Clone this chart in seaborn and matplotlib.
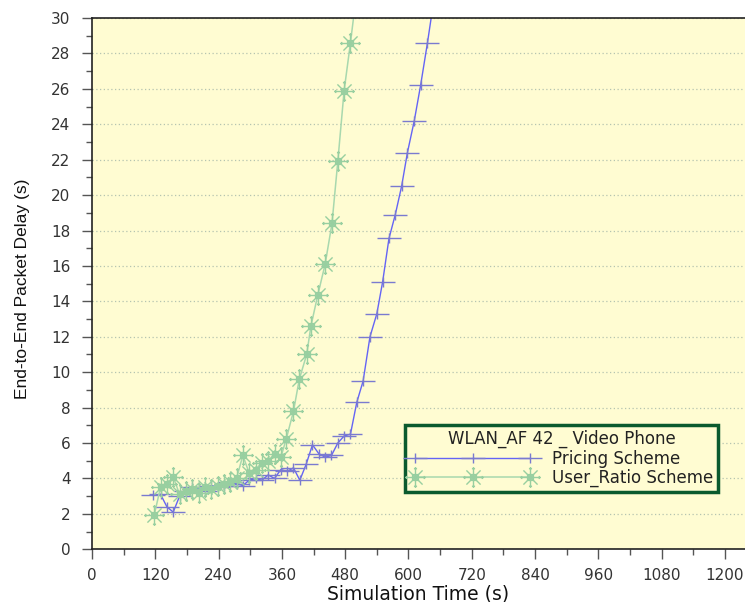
import numpy as np
import matplotlib
matplotlib.use("Agg")
import matplotlib.pyplot as plt
from matplotlib.path import Path
import seaborn as sns

# ---- data ----
pricing_t = [115, 130, 142, 154, 166, 178, 190, 202, 214, 226, 238, 250, 262, 274,
             286, 298, 310, 322, 334, 346, 358, 370, 382, 394, 406, 418, 430, 442,
             454, 466, 478, 490, 502, 514, 527, 540, 551, 563, 575, 587, 598, 611,
             623, 636, 648]
pricing_y = [3.05, 3.1, 2.4, 2.1, 3.0, 3.3, 3.5, 3.4, 3.3, 3.6, 3.5, 3.6, 3.8, 3.7,
             3.6, 3.9, 4.0, 3.9, 4.2, 4.0, 4.5, 4.4, 4.6, 3.9, 4.8, 5.9, 5.4, 5.2,
             5.3, 6.0, 6.4, 6.5, 8.3, 9.5, 12.0, 13.3, 15.1, 17.55, 18.9, 20.5, 22.4,
             24.2, 26.2, 28.6, 31.0]

ratio_t = [118, 130, 142, 154, 166, 178, 190, 202, 214, 226, 238, 250, 262, 274,
           286, 298, 310, 322, 334, 346, 358, 368, 382, 393, 407, 415, 428, 442,
           455, 466, 478, 490, 502]
ratio_y = [1.95, 3.5, 3.7, 4.1, 3.1, 3.3, 3.4, 3.2, 3.5, 3.4, 3.6, 3.7, 3.8, 4.0,
           5.3, 4.3, 4.5, 4.9, 5.0, 5.4, 5.2, 6.2, 7.8, 9.6, 11.0, 12.6, 14.35, 16.1,
           18.4, 21.9, 25.9, 28.6, 31.5]

x_ticks = [0, 120, 240, 360, 480, 600, 720, 840, 960, 1080, 1200]
y_ticks = list(range(0, 31, 2))
legend_title = "WLAN_AF 42 _ Video Phone"
labels = ["Pricing Scheme", "User_Ratio Scheme"]

# ---- markers ----
M, L = Path.MOVETO, Path.LINETO
plus_verts = [(-1, 0), (1, 0), (0, -0.45), (0, 0.45)]
plus_path = Path(plus_verts, [M, L, M, L])

d = 0.68
s = 0.28
star_verts = [(-1, 0), (1, 0), (0, -1), (0, 1),
              (-d, -d), (d, d), (-d, d), (d, -d),
              (-s, -s), (s, -s), (s, s), (-s, s), (-s, -s),
              (-0.85, -0.15), (-0.85, 0.15), (0.85, -0.15), (0.85, 0.15),
              (-0.15, -0.85), (0.15, -0.85), (-0.15, 0.85), (0.15, 0.85)]
star_codes = [M, L, M, L, M, L, M, L, M, L, L, L, L, M, L, M, L, M, L, M, L]
star_path = Path(star_verts, star_codes)

# ---- figure ----
sns.set_style("white")
plt.rcParams["font.family"] = ["DejaVu Sans"]

fig = plt.figure(figsize=(7.45, 6.02), dpi=100)
ax = fig.add_axes([92 / 745, (602 - 549.3) / 602, 1 - 92 / 745, (549.3 - 18) / 602])
bg = "#fffcd2"
ax.set_facecolor(bg)

blue = "#6464f5"
green = "#a8d8ae"

sns.lineplot(x=pricing_t, y=pricing_y, ax=ax, sort=False, color=blue, lw=1.0,
             marker=plus_path, markersize=17, markerfacecolor="none",
             markeredgecolor="#7a7ad0", markeredgewidth=1.0, label=labels[0])
sns.lineplot(x=ratio_t, y=ratio_y, ax=ax, sort=False, color=green, lw=1.1,
             marker=star_path, markersize=15, markerfacecolor="none",
             markeredgecolor="#98cfa0", markeredgewidth=1.0, label=labels[1])

ax.set_xlim(0, 1238)
ax.set_ylim(0, 30)
ax.set_xticks(x_ticks)
ax.set_xticks(np.arange(60, 1238, 120), minor=True)
ax.set_yticks(y_ticks)
ax.set_yticks(np.arange(1, 30, 2), minor=True)
ax.tick_params(axis="both", which="major", direction="out", length=7.5, width=1,
               color="#555555", labelsize=11, labelcolor="#333333", left=True, bottom=True)
ax.tick_params(axis="both", which="minor", direction="out", length=4, width=1,
               color="#555555", left=True, bottom=True)
ax.tick_params(axis="y", which="major", pad=8)
ax.tick_params(axis="x", which="major", pad=6)
ax.yaxis.grid(True, which="major", linestyle=(0, (1, 2)), color="#b5c4b0", lw=0.9)
ax.xaxis.grid(False)
ax.set_axisbelow(True)

for side in ["left", "bottom", "top"]:
    ax.spines[side].set_visible(True)
    ax.spines[side].set_color("#222222")
    ax.spines[side].set_linewidth(1.2)
ax.spines["right"].set_visible(False)

ax.set_xlabel("Simulation Time (s)", fontsize=13.5, color="#111111", labelpad=1)
ax.set_ylabel("End-to-End Packet Delay (s)", fontsize=12.5, color="#111111",
              family="Liberation Sans")
ax.yaxis.set_label_coords((30 - 92) / 653, 0.49)

leg = ax.legend(title=legend_title, loc="upper left",
                bbox_to_anchor=((405 - 92) / 653, (549.3 - 425) / 531.3),
                fontsize=12, title_fontsize=12, numpoints=3, handlelength=7.5,
                handletextpad=1.0, labelspacing=0.08, borderpad=0.3,
                borderaxespad=0, fancybox=False, framealpha=1, facecolor=bg,
                edgecolor="#0a5a2e")
leg.get_frame().set_linewidth(2.5)
for t in leg.get_texts():
    t.set_color("#222222")
leg.get_title().set_color("#222222")

fig.savefig("out.png", dpi=100)
